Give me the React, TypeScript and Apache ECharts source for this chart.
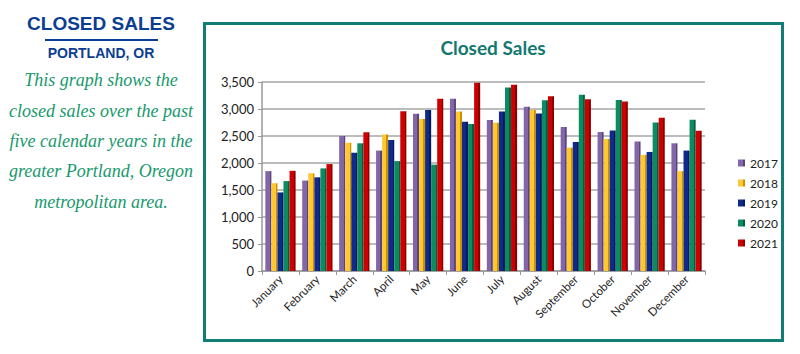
import React, { useEffect, useRef } from "react";
import * as echarts from "echarts";

const months = ["January", "February", "March", "April", "May", "June", "July", "August", "September", "October", "November", "December"];
const years = ["2017", "2018", "2019", "2020", "2021"];
const s2017 = [1850, 1675, 2500, 2230, 2910, 3190, 2795, 3040, 2665, 2575, 2400, 2365];
const s2018 = [1625, 1810, 2375, 2530, 2815, 2955, 2745, 2980, 2285, 2445, 2150, 1850];
const s2019 = [1455, 1735, 2190, 2425, 2980, 2765, 2955, 2915, 2390, 2600, 2205, 2230];
const s2020 = [1665, 1900, 2365, 2035, 1970, 2720, 3400, 3160, 3265, 3165, 2750, 2800];
const s2021 = [1855, 1980, 2570, 2960, 3190, 3485, 3450, 3235, 3180, 3140, 2840, 2595];
const seriesData = [s2017, s2018, s2019, s2020, s2021];
const yTicks = [0, 500, 1000, 1500, 2000, 2500, 3000, 3500];
const palette = [
  ["#8366a8", "#5a4479"],
  ["#ffc830", "#c99200"],
  ["#10298c", "#08195a"],
  ["#0c8a60", "#055c3e"],
  ["#cc0000", "#880000"],
];
const descLines = [
  "This graph shows the",
  "closed sales over the past",
  "five calendar years in the",
  "greater Portland, Oregon",
  "metropolitan area.",
];

export default function App() {
  const ref = useRef<HTMLDivElement>(null);
  useEffect(() => {
    if (!ref.current) return;
    const chart = echarts.init(ref.current, undefined, { renderer: "svg" });
    const descY = [80, 110.5, 140.5, 171, 201.5];
    const graphic: any[] = [
      {
        type: "text",
        x: 101,
        y: 23,
        style: {
          text: "CLOSED SALES", fill: "#0b3e92",
          font: "bold 19px 'Liberation Sans', Arial, sans-serif",
          textAlign: "center", textVerticalAlign: "middle",
        },
      },
      { type: "line", shape: { x1: 45, y1: 40, x2: 158, y2: 40 }, style: { stroke: "#0b3e92", lineWidth: 2 } },
      {
        type: "text",
        x: 101,
        y: 53,
        style: {
          text: "PORTLAND, OR", fill: "#0b3e92",
          font: "bold 14px 'Liberation Sans', Arial, sans-serif",
          textAlign: "center", textVerticalAlign: "middle",
        },
      },
      ...descLines.map((t, i) => ({
        type: "text",
        x: 101,
        y: descY[i],
        style: {
          text: t, fill: "#17996c",
          font: "italic 18px 'Liberation Serif', 'DejaVu Serif', serif",
          textAlign: "center", textVerticalAlign: "middle",
        },
      })),
      {
        type: "rect",
        shape: { x: 204.5, y: 23.5, width: 578, height: 317 },
        style: { fill: "none", stroke: "#117d74", lineWidth: 3 },
        z: 100,
      },
      {
        type: "text",
        x: 493,
        y: 47,
        style: {
          text: "Closed Sales", fill: "#13786f",
          font: "bold 19px Lato, 'Open Sans', sans-serif",
          textAlign: "center", textVerticalAlign: "middle",
        },
      },
    ];
    chart.setOption({
      animation: false,
      backgroundColor: "#ffffff",
      textStyle: { fontFamily: "Lato, 'Open Sans', sans-serif" },
      graphic,
      legend: {
        orient: "vertical",
        left: 733,
        top: 152,
        itemWidth: 7,
        itemHeight: 7,
        itemGap: 8,
        icon: "rect",
        data: years,
        textStyle: { fontSize: 12, color: "#222", fontFamily: "Lato, sans-serif" },
      },
      grid: { left: 262, right: 95, top: 82, bottom: 83, containLabel: false },
      xAxis: {
        type: "category",
        data: months,
        axisLine: { show: true, lineStyle: { color: "#999", width: 1.5 } },
        axisTick: { show: true, length: 4, lineStyle: { color: "#999" } },
        axisLabel: { rotate: 45, fontSize: 11.5, color: "#222", margin: 6, interval: 0 },
      },
      yAxis: {
        type: "value",
        min: 0,
        max: 3500,
        interval: 500,
        axisLine: { show: true, lineStyle: { color: "#999", width: 1.5 } },
        axisTick: { show: true, length: 4, lineStyle: { color: "#999" } },
        splitLine: { lineStyle: { color: "#a6a6a6", width: 1.5 } },
        axisLabel: {
          fontSize: 13, color: "#222", margin: 8,
          formatter: (v: number) => (yTicks.includes(v) ? v.toLocaleString("en-US") : ""),
        },
      },
      series: years.map((y, i) => ({
        name: y,
        type: "bar",
        data: seriesData[i],
        barGap: "0%",
        barCategoryGap: "18%",
        itemStyle: {
          color: new echarts.graphic.LinearGradient(0, 0, 1, 0, [
            { offset: 0, color: palette[i][0] },
            { offset: 0.72, color: palette[i][0] },
            { offset: 0.72, color: palette[i][1] },
            { offset: 1, color: palette[i][1] },
          ]),
        },
      })),
    });
    return () => chart.dispose();
  }, []);
  return (
    <div style={{ position: "fixed", left: 0, top: 0, width: 800, height: 354, background: "#fff" }}>
      <div ref={ref} style={{ width: 800, height: 354 }} />
    </div>
  );
}
